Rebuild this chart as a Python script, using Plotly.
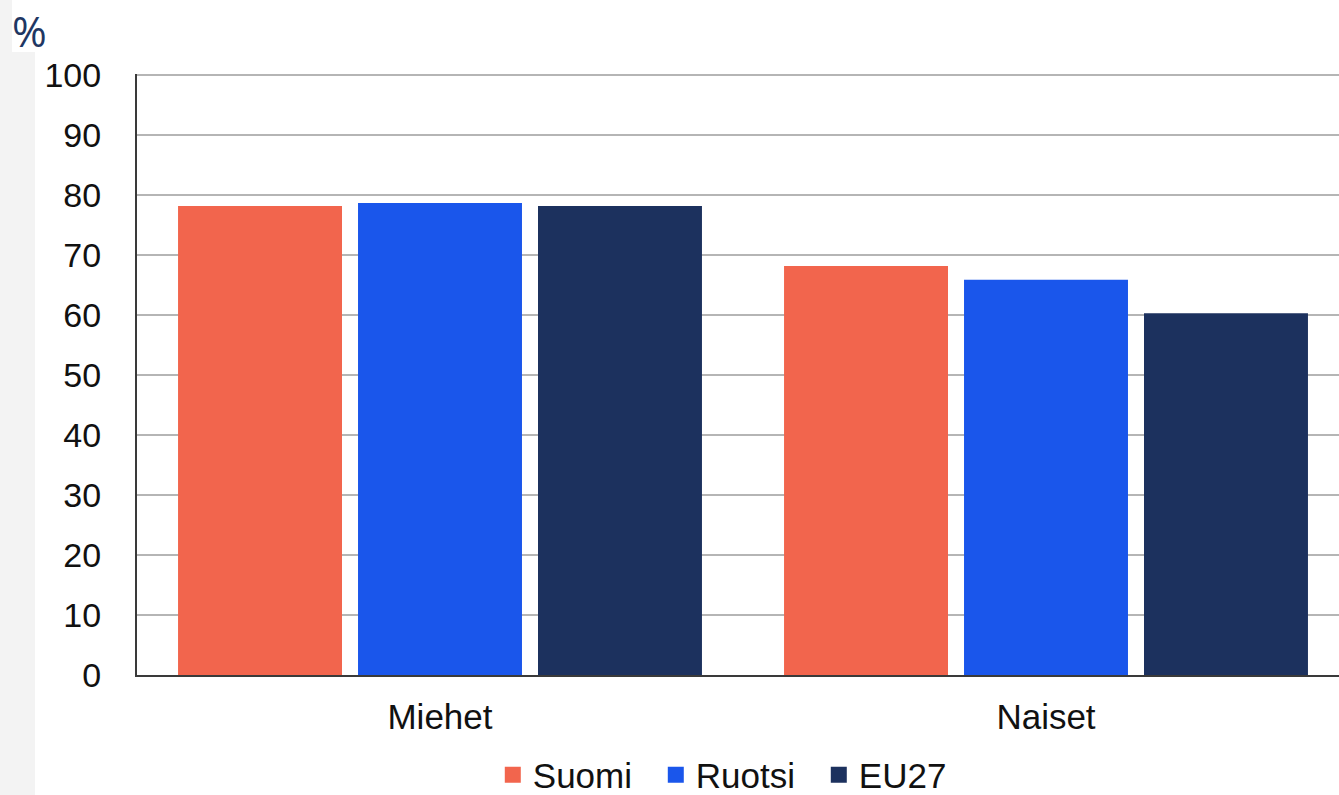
import plotly.graph_objects as go

categories = ["Miehet", "Naiset"]
series_names = ["Suomi", "Ruotsi", "EU27"]
suomi = [78.2, 68.2]
ruotsi = [78.7, 65.9]
eu27 = [78.2, 60.3]
colors = ["#F2654D", "#1A56EB", "#1C315E"]
y_ticks = [0, 10, 20, 30, 40, 50, 60, 70, 80, 90, 100]

fig = go.Figure()
for name, vals, col in zip(series_names, [suomi, ruotsi, eu27], colors):
    fig.add_trace(go.Bar(x=categories, y=vals, name=name, showlegend=False,
                         marker=dict(color=col, line=dict(width=0))))
# legend entries with larger square swatches
for name, col in zip(series_names, colors):
    fig.add_trace(go.Scatter(x=[categories[0]], y=[None], name=name, mode="markers",
                             marker=dict(symbol="square", size=17, color=col, line=dict(width=0)),
                             hoverinfo="skip"))

W, H = 1339, 795
left, bottom, top = 137, 120, 74
plot_w = W - left
plot_h = H - top - bottom

fig.update_layout(
    width=W, height=H, autosize=False,
    margin=dict(l=left, r=0, t=top, b=bottom, pad=0, autoexpand=False),
    paper_bgcolor="white", plot_bgcolor="white",
    barmode="group", bargap=0.109, bargroupgap=0.089,
    font=dict(family="Liberation Sans, Arial, sans-serif", size=34, color="#111111"),
    showlegend=True,
    legend=dict(orientation="h", xref="paper", x=0.296, xanchor="left",
                yref="paper", y=-(775 - (H - bottom)) / plot_h, yanchor="middle",
                font=dict(size=35, color="#111111"), itemwidth=30, tracegroupgap=0,
                entrywidth=118, entrywidthmode="pixels",
                bgcolor="rgba(0,0,0,0)"),
    xaxis=dict(range=[-0.5, -0.5 + plot_w / 606.0], showgrid=False,
               showline=True, linecolor="#3A3A3A", linewidth=2, ticks="",
               tickfont=dict(size=35), ticklabelstandoff=10),
    yaxis=dict(range=[0, 100.2], tickvals=y_ticks, showgrid=True, gridcolor="#B5B5B5",
               gridwidth=2, showline=True, linecolor="#3A3A3A", linewidth=2,
               ticks="", tickfont=dict(size=34), zeroline=False, ticklabelstandoff=27),
    shapes=[
        dict(type="rect", xref="paper", yref="paper", x0=-left / plot_w, x1=(35 - left) / plot_w,
             y0=-bottom / plot_h, y1=(H - bottom - 52) / plot_h,
             fillcolor="#F3F3F3", line=dict(width=0), layer="below"),
        dict(type="rect", xref="paper", yref="paper", x0=-left / plot_w, x1=(12 - left) / plot_w,
             y0=(H - bottom - 52) / plot_h, y1=(H - bottom) / plot_h,
             fillcolor="#F3F3F3", line=dict(width=0), layer="below"),
    ],
    annotations=[
        dict(text="%", xref="paper", yref="paper", x=(10 - left) / plot_w,
             y=(H - bottom - 30) / plot_h, xanchor="left", yanchor="middle",
             showarrow=False, font=dict(family="Open Sans, Noto Sans, sans-serif", size=42, color="#1F3763")),
    ],
)

fig.write_html("out.html", config={"displayModeBar": False},
               post_script="document.body.style.margin='0';document.body.style.overflow='hidden';")
